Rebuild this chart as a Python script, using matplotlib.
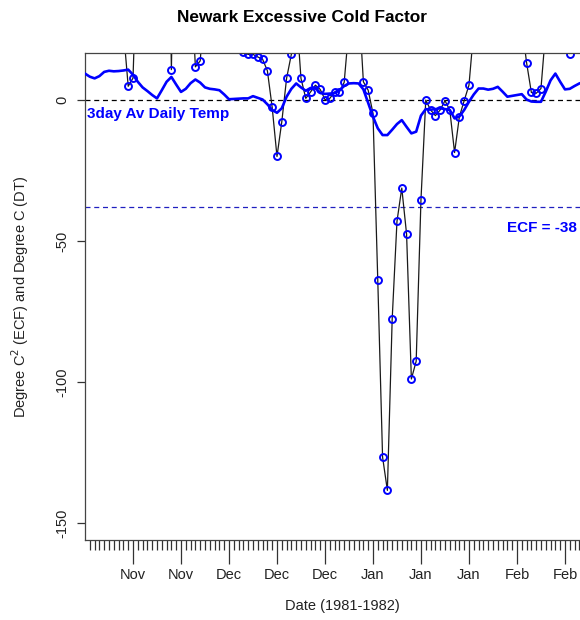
import matplotlib
matplotlib.use("Agg")
import matplotlib.pyplot as plt
import numpy as np
import pandas as pd

plt.rcParams['font.family'] = ['Liberation Sans', 'DejaVu Sans']

# ---- data -------------------------------------------------------------
start_date = "1981-11-10"

# Excessive Cold Factor (daily, degree C^2); values above the plot top are clipped
ecf = [150, 180, 200, 170, 140, 120, 90, 60, 25, 4.9,
       7.8, 60, 110, 150, 180, 200, 160, 120, 10.8, 110,
       150, 120, 45, 11.8, 13.9, 35, 80, 110, 120, 140,
       150, 130, 70, 17.0, 16.2, 16.2, 15.3, 14.5, 10.4, -2.6,
       -20.0, -7.7, 7.7, 16.3, 32, 7.7, 0.6, 2.9, 5.3, 3.8,
       0.2, 0.6, 2.9, 2.9, 6.3, 26, 60, 36, 6.5, 3.5,
       -4.7, -63.9, -126.6, -138.4, -77.7, -43.0, -31.2, -47.5, -98.9, -92.6,
       -35.3, 0.0, -3.5, -5.5, -3.5, -0.2, -3.5, -18.6, -5.9, -0.2,
       5.3, 25, 70, 110, 130, 140, 120, 100, 90, 80,
       60, 27, 13.3, 2.7, 2.4, 4.1, 25, 60, 80, 60,
       35, 16.5, 30, 50, 70, 90, 100, 110]

# 3-day average daily temperature (degree C)
temp = [9.4, 8.3, 7.7, 8.5, 10.0, 10.4, 10.2, 10.3, 10.5, 10.8,
        9.0, 6.5, 4.5, 3.2, 1.8, 0.6, 3.5, 6.5, 8.2, 5.5,
        2.9, 4.0, 6.0, 7.3, 6.2, 4.5, 4.0, 3.8, 3.5, 2.0,
        0.3, 0.4, 0.5, 0.6, 0.6, 1.4, 0.8, 0.2, -1.5, -3.5,
        -4.5, -2.9, 1.2, 4.0, 5.9, 4.5, 3.3, 4.3, 4.5, 2.5,
        2.2, 2.3, 2.5, 3.5, 5.0, 5.9, 6.0, 5.9, 3.8, -1.0,
        -5.9, -10.0, -12.4, -12.4, -10.5, -8.5, -7.1, -9.5, -11.8, -11.2,
        -5.5, -3.2, -3.4, -3.2, -2.9, -3.2, -3.5, -6.5, -5.8, -3.5,
        -0.6, 2.0, 4.1, 4.1, 3.7, 4.0, 4.7, 3.0, 1.2, 1.5,
        1.8, 2.1, 0.2, -0.5, -0.6, -0.6, 3.0, 7.0, 9.4, 6.5,
        3.8, 4.0, 5.0, 5.9, 6.5, 7.0, 7.0, 7.0]

ecf_threshold = -38
major_tick_start = "1981-11-20"
major_tick_count = 10
major_tick_labels = ["Nov", "Nov", "Dec", "Dec", "Dec", "Jan", "Jan", "Jan", "Feb", "Feb"]
yticks = [0, -50, -100, -150]

# ---- plot -------------------------------------------------------------
dates = pd.date_range(start_date, periods=len(ecf), freq="D")
days = np.array([(d - dates[0]).days for d in dates], dtype=float)

fig = plt.figure(figsize=(5.8, 6.2), dpi=100)
ax = fig.add_axes([85/580, 80/620, (600-85)/580, (540-53)/620])

ax.axhline(0, color="black", lw=0.9, ls=(0, (4, 3)), zorder=1)
ax.axhline(ecf_threshold, color="#2020c0", lw=0.9, ls=(0, (4, 3)), zorder=1)

ax.plot(days, temp, color="#0000ff", lw=1.9, zorder=3)
ax.plot(days, ecf, color="#1a1a1a", lw=0.9, zorder=2,
        marker="o", ms=5, mfc="none", mec="#0000ff", mew=1.4)

ax.set_xlim(0, 107.3)
ax.set_ylim(-156.0, 16.7)

maj_dates = pd.date_range(major_tick_start, periods=major_tick_count, freq="10D")
maj = [(d - dates[0]).days for d in maj_dates]
ax.set_xticks(maj)
ax.set_xticklabels(major_tick_labels, fontsize=10.5, color="#222222")
ax.set_xticks(np.arange(1, 108), minor=True)
ax.tick_params(axis="x", which="major", length=17, width=0.9, pad=3, colors="#333333")
ax.tick_params(axis="x", which="minor", length=7, width=0.9, colors="#333333")
ax.tick_params(axis="x", labelcolor="#222222")

ax.set_yticks(yticks)
ax.set_yticklabels([str(v) for v in yticks], rotation=90, va="center",
                   fontsize=10.5, color="#222222")
ax.tick_params(axis="y", length=6, width=0.9, pad=5, colors="#333333", labelcolor="#222222")

for s in ax.spines.values():
    s.set_color("#444444")
    s.set_linewidth(0.9)

ax.text(0.4, -5, "3day Av Daily Temp", color="#0000ff", fontsize=11,
        fontweight="bold", ha="left", va="center")
ax.text(88.0, ecf_threshold - 7.5, "ECF = -38", color="#0000ff", fontsize=11,
        fontweight="bold", ha="left", va="center")

fig.text(302/580, 1 - 17/620, "Newark Excessive Cold Factor", fontsize=12.4,
         fontweight="bold", ha="center", va="center")
fig.text(342/580, 1 - 606/620, "Date (1981-1982)", fontsize=10.5,
         ha="center", va="center", color="#222222")
fig.text(20/580, 1 - 297/620, "Degree C$^2$ (ECF) and Degree C (DT)", fontsize=10.5,
         rotation=90, ha="center", va="center", color="#222222")

fig.savefig("out.png", dpi=100)
